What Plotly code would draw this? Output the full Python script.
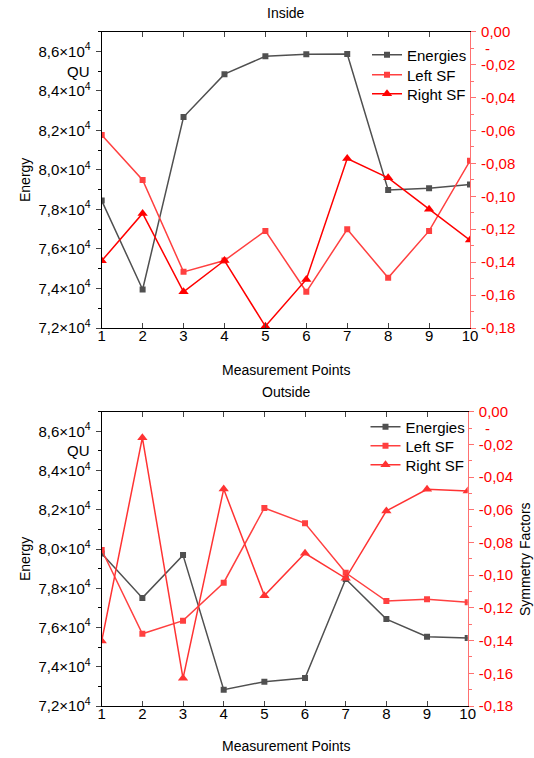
import plotly.graph_objects as go

points = list(range(1, 11))

# Inside
in_energy = [78450, 73950, 82680, 84850, 85760, 85860, 85870, 78990, 79080, 79260]
in_left_sf = [-0.0628, -0.0901, -0.1459, -0.1390, -0.1210, -0.1580, -0.1200, -0.1495, -0.1210, -0.0784]
in_right_sf = [-0.1392, -0.1104, -0.1580, -0.1390, -0.1790, -0.1505, -0.0770, -0.0888, -0.1078, -0.1266]

# Outside
out_energy = [79770, 77510, 79690, 72830, 73240, 73430, 78470, 76430, 75530, 75460]
out_left_sf = [-0.0846, -0.1358, -0.1278, -0.1046, -0.0589, -0.0683, -0.0985, -0.1158, -0.1147, -0.1166]
out_right_sf = [-0.1403, -0.0159, -0.1631, -0.0473, -0.1125, -0.0866, -0.1019, -0.0607, -0.0475, -0.0485]

energy_ticks = [72000, 74000, 76000, 78000, 80000, 82000, 84000, 86000]
energy_ticktext = ["7,2×10<sup>4</sup>", "7,4×10<sup>4</sup>", "7,6×10<sup>4</sup>", "7,8×10<sup>4</sup>",
                   "8,0×10<sup>4</sup>", "8,2×10<sup>4</sup>", "8,4×10<sup>4</sup>", "8,6×10<sup>4</sup>"]
sf_ticks = [0.0, -0.02, -0.04, -0.06, -0.08, -0.10, -0.12, -0.14, -0.16, -0.18]
sf_ticktext = ["0,00", "-0,02", "-0,04", "-0,06", "-0,08", "-0,10", "-0,12", "-0,14", "-0,16", "-0,18"]

W, H = 534, 758
FONT = "Liberation Sans, Arial, sans-serif"
C_EN = "#505050"
C_LEFT = "#ff4040"
C_RIGHT_IN = "#ff0000"
C_RIGHT_OUT = "#ff3333"
C_RAXIS = "#ff7070"

def px_x(v):
    return v / W

def px_y(v):
    return 1 - v / H

fig = go.Figure()

def add_panel(xa, ya_l, ya_r, legs, energy, left, right, right_color):
    fig.add_trace(go.Scatter(x=points, y=energy, name="Energies", mode="lines+markers",
                             line=dict(color=C_EN, width=1.5), marker=dict(symbol="square", size=6, color=C_EN),
                             xaxis=xa, yaxis=ya_l, legend=legs[0]))
    fig.add_trace(go.Scatter(x=points, y=left, name="Left SF", mode="lines+markers",
                             line=dict(color=C_LEFT, width=1.5), marker=dict(symbol="square", size=6, color=C_LEFT),
                             xaxis=xa, yaxis=ya_r, legend=legs[1]))
    fig.add_trace(go.Scatter(x=points, y=right, name="Right SF", mode="lines+markers",
                             line=dict(color=right_color, width=1.5), marker=dict(symbol="triangle-up", size=9, color=right_color),
                             xaxis=xa, yaxis=ya_r, legend=legs[2]))

add_panel("x", "y", "y2", ["legend", "legend2", "legend3"], in_energy, in_left_sf, in_right_sf, C_RIGHT_IN)
add_panel("x2", "y3", "y4", ["legend4", "legend5", "legend6"], out_energy, out_left_sf, out_right_sf, C_RIGHT_OUT)

xcommon = dict(range=[1, 10], tickvals=points, ticks="inside", ticklen=5, showline=True, linecolor="black",
               linewidth=1.2, mirror="ticks", showgrid=False, zeroline=False, automargin=False,
               tickfont=dict(size=15, color="black", family=FONT), ticklabelstandoff=-6)
ylcommon = dict(range=[72000, 87000], tickvals=energy_ticks, ticktext=energy_ticktext, ticks="outside", ticklen=5,
                showline=True, linecolor="black", linewidth=1.2, showgrid=False, zeroline=False, automargin=False,
                minor=dict(ticks="outside", ticklen=3, dtick=1000, tick0=72000, tickcolor="black"),
                tickfont=dict(size=15, color="black", family=FONT), ticklabelstandoff=2)
yrcommon = dict(range=[-0.18, 0.0], tickvals=sf_ticks, ticktext=sf_ticktext, ticks="outside", ticklen=5,
                showline=True, linecolor=C_RAXIS, tickcolor=C_RAXIS, linewidth=1.2, showgrid=False, zeroline=False,
                automargin=False,
                minor=dict(ticks="outside", ticklen=3, dtick=0.01, tick0=0, tickcolor=C_RAXIS),
                tickfont=dict(size=15, color="#ff0000", family=FONT), side="right", ticklabelstandoff=2)

top_x = [px_x(101.7), px_x(470)]
bot_x = [px_x(101.7), px_x(467.7)]
top_y = [px_y(328), px_y(31.7)]
bot_y = [px_y(706), px_y(411.7)]

def leg(x, y):
    return dict(x=px_x(x), y=px_y(y), xanchor="left", yanchor="middle", bgcolor="rgba(0,0,0,0)",
                font=dict(size=15, family=FONT), itemwidth=30, borderwidth=0)

fig.update_layout(
    template="none",
    width=W, height=H, margin=dict(l=0, r=0, t=0, b=0, pad=0, autoexpand=False),
    paper_bgcolor="white", plot_bgcolor="white",
    font=dict(family=FONT, size=14, color="black"),
    xaxis=dict(domain=top_x, anchor="y", **xcommon),
    yaxis=dict(domain=top_y, anchor="x", **ylcommon),
    yaxis2=dict(overlaying="y", anchor="x", **yrcommon),
    xaxis2=dict(domain=bot_x, anchor="y3", **xcommon),
    yaxis3=dict(domain=bot_y, anchor="x2", **ylcommon),
    yaxis4=dict(overlaying="y3", anchor="x2", **yrcommon),
    legend=leg(367, 55),
    legend2=leg(367, 75),
    legend3=leg(367, 94),
    legend4=leg(365.5, 427),
    legend5=leg(365.5, 446),
    legend6=leg(365.5, 465),
    showlegend=True,
)

ann = []
def text(x, y, s, size=14, angle=0, color="black", xanchor="center", yref="paper", yv=None):
    ann.append(dict(x=x, y=yv if yv is not None else px_y(y), xref="paper", yref=yref, text=s, showarrow=False,
                    textangle=angle, font=dict(size=size, color=color, family=FONT), xanchor=xanchor, yanchor="middle"))

text(px_x(286), 13, "Inside")
text(px_x(286), 370, "Measurement Points")
text(px_x(286), 392, "Outside")
text(px_x(286), 746, "Measurement Points")
text(px_x(25), 180, "Energy", angle=-90)
text(px_x(25), 559, "Energy", angle=-90)
text(px_x(525), 559, "Symmetry Factors", angle=-90)
# odd extra labels on axes
text(px_x(92), 0, "QU", size=15, xanchor="right", yref="y", yv=85000)
text(px_x(92), 0, "QU", size=15, xanchor="right", yref="y3", yv=85000)
text(px_x(487), 0, "-", size=15, color="#ff0000", yref="y2", yv=-0.01)
text(px_x(487), 0, "-", size=15, color="#ff0000", yref="y4", yv=-0.01)
fig.update_layout(annotations=ann)

fig.write_html("out.html", config=dict(responsive=False, displayModeBar=False),
               post_script="document.body.style.margin='0px';document.body.style.overflow='hidden';")
